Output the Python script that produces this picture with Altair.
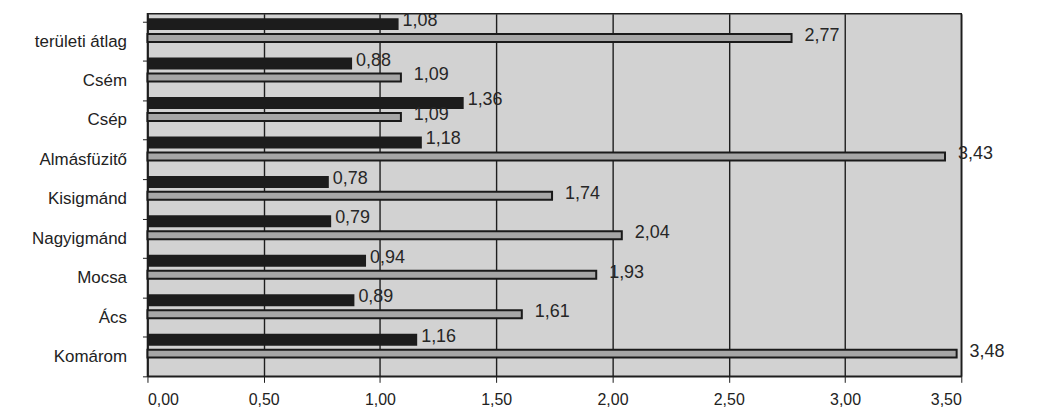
import altair as alt
import pandas as pd

categories = ["területi átlag", "Csém", "Csép", "Almásfüzitő", "Kisigmánd",
              "Nagyigmánd", "Mocsa", "Ács", "Komárom"]
series_dark = [1.08, 0.88, 1.36, 1.18, 0.78, 0.79, 0.94, 0.89, 1.16]
series_grey = [2.77, 1.09, 1.09, 3.43, 1.74, 2.04, 1.93, 1.61, 3.48]
x_ticks = [0.0, 0.5, 1.0, 1.5, 2.0, 2.5, 3.0, 3.5]


def lab(v):
    return f"{v:.2f}".replace(".", ",")


df_dark = pd.DataFrame({"cat": categories, "v": series_dark})
df_dark["lbl"] = df_dark["v"].map(lab)
df_grey = pd.DataFrame({"cat": categories, "v": series_grey})
df_grey["lbl"] = df_grey["v"].map(lab)

FONT = "Liberation Sans"

x_enc = alt.X(
    "v:Q",
    scale=alt.Scale(domain=[0, 3.5], nice=False, zero=True),
    axis=alt.Axis(
        values=x_ticks,
        labelExpr="replace(format(datum.value, '.2f'), '.', ',')",
        title=None,
        grid=True,
        gridColor="#1e1e1e",
        gridWidth=1.4,
        domainColor="#1e1e1e",
        domainWidth=1.5,
        tickColor="#1e1e1e",
        tickSize=6,
        labelFont=FONT,
        labelFontSize=16,
        labelColor="#222222",
        labelPadding=9,
    ),
)
y_enc = alt.Y(
    "cat:N",
    sort=categories,
    scale=alt.Scale(paddingInner=0, paddingOuter=0.096, align=1),
    axis=alt.Axis(
        title=None,
        labelFont=FONT,
        labelFontSize=17,
        labelColor="#222222",
        labelPadding=16,
        tickBand="extent",
        tickSize=5,
        tickColor="#1e1e1e",
        domainColor="#1e1e1e",
        domainWidth=1.5,
    ),
)

dark_bars = alt.Chart(df_dark).mark_bar(
    color="#1c1c1c", size=12, yOffset=-17
).encode(x=x_enc, y=y_enc)

grey_bars = alt.Chart(df_grey).mark_bar(
    color="#a6a6a6", stroke="#1a1a1a", strokeWidth=2, size=8, yOffset=-3
).encode(x=x_enc, y=y_enc)

dark_text = alt.Chart(df_dark).mark_text(
    align="left", baseline="middle", dx=4, dy=-20, font=FONT, fontSize=18,
    color="#262626"
).encode(x=x_enc, y=y_enc, text="lbl:N")

grey_text = alt.Chart(df_grey).mark_text(
    align="left", baseline="middle", dx=13, dy=-5, font=FONT, fontSize=18,
    color="#262626"
).encode(x=x_enc, y=y_enc, text="lbl:N")

chart = alt.layer(dark_bars, grey_bars, dark_text, grey_text).properties(
    width=817, height=364,
    autosize=alt.AutoSizeParams(type="none"),
    padding={"left": 140, "top": 5, "right": 75, "bottom": 30},
).configure(
    background="white"
).configure_view(
    fill="#d2d2d2", stroke="#1e1e1e", strokeWidth=1.5
)

chart.save("out.html", embed_options={"renderer": "svg", "actions": False})
